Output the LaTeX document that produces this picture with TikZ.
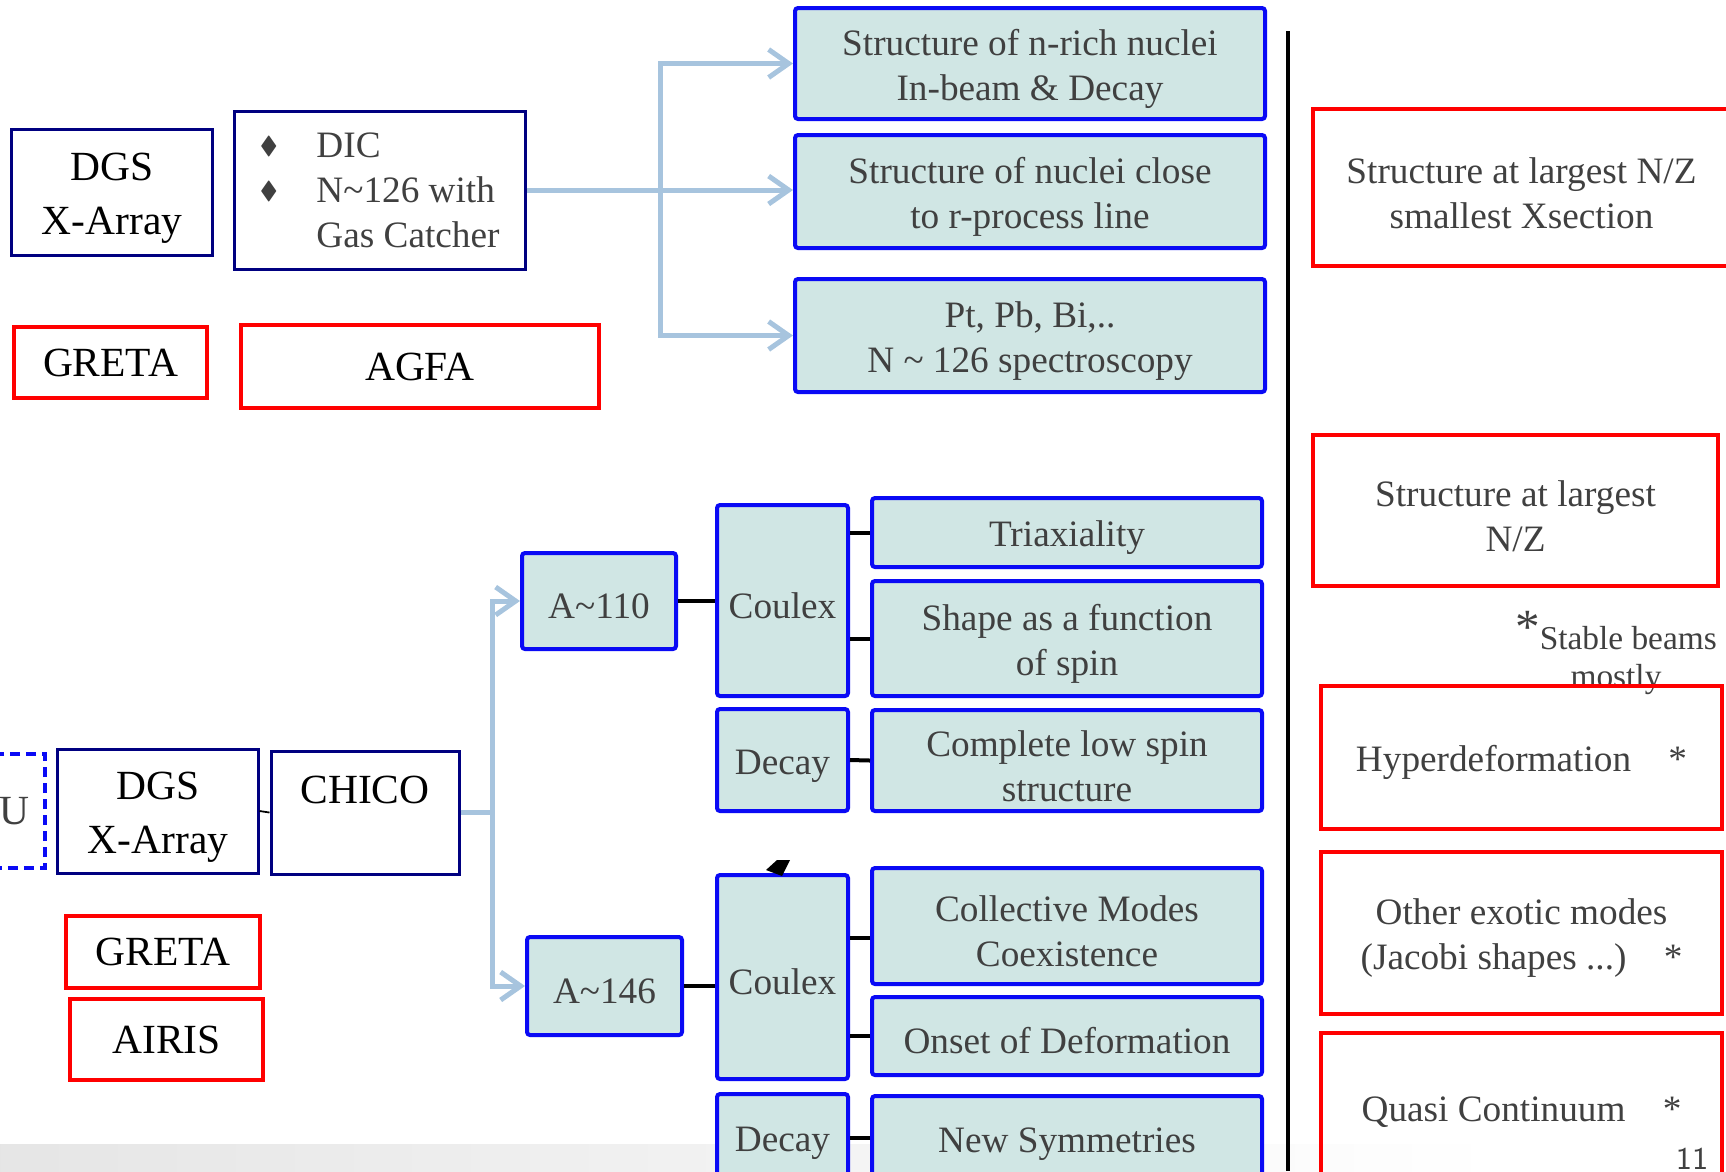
\documentclass[tikz,border=0pt]{standalone}
\usepackage{amssymb}
\usepackage{fontspec}
\setmainfont{Liberation Serif}
\usetikzlibrary{arrows.meta}

\definecolor{navyline}{RGB}{0,0,128}
\definecolor{blueline}{RGB}{10,10,245}
\definecolor{redline}{RGB}{255,0,0}
\definecolor{cyanfill}{RGB}{208,230,228}
\definecolor{flowblue}{RGB}{167,196,222}
\definecolor{darktext}{RGB}{64,64,64}

\newcommand{\bigf}{\fontsize{11.8}{15.4}\selectfont}
\newcommand{\smallf}{\fontsize{10.6}{12.8}\selectfont}
\newcommand{\bul}{\makebox[5.7mm][l]{\raisebox{0.2ex}{\scriptsize$\blacklozenge$}}}
\newcommand{\tld}{\symbol{"7E}}

\begin{document}
\begin{tikzpicture}[
            x=1mm, y=-1mm,
            every node/.style={align=center, inner sep=0pt},
            navybox/.style={draw=navyline, line width=0.3mm, font=\bigf, text=black},
            redbox/.style={draw=redline, line width=0.35mm, font=\smallf, text=darktext},
            cyanbox/.style={draw=blueline, fill=cyanfill, line width=0.4mm, rounded corners=0.3mm, font=\smallf, text=darktext},
            oneline/.style={text height=3.6mm},
            twoline/.style={text height=8.15mm},
            twobig/.style={text height=9.35mm},
            flowline/.style={draw=flowblue, line width=0.5mm},
            flow/.style={flowline, -{Straight Barb[length=2mm, width=2.8mm]}},
            link/.style={draw=black, line width=0.4mm}
        ]
        \useasboundingbox (0,0) rectangle (172.6,117.1);
        \shade[left color=black!10, right color=white] (0,114.4) rectangle (150,117.1);

        \node[navybox, twobig, minimum width=20.1mm, minimum height=12.6mm] (dgsA) at (11.2,19.2) {DGS\\X-Array};
        \node[draw=navyline, line width=0.3mm, font=\smallf, text=darktext, align=left, minimum width=29.1mm, minimum height=15.8mm] (dic) at (37.95,19.0)
            {\bul DIC\\ \bul N\tld126 with\\ \hspace*{5.7mm}Gas Catcher};
        \node[redbox, font=\bigf, text=black, minimum width=19.3mm, minimum height=7.1mm] (gretaA) at (11.05,36.25) {GRETA};
        \node[redbox, font=\bigf, text=black, minimum width=35.8mm, minimum height=8.3mm] (agfa) at (42.0,36.65) {AGFA};

        \node[cyanbox, twoline, minimum width=47mm, minimum height=11.1mm] (topA) at (103.0,6.35) {Structure of n-rich nuclei\\In-beam \& Decay};
        \node[cyanbox, twoline, minimum width=47mm, minimum height=11.3mm] (topB) at (103.0,19.15) {Structure of nuclei close\\to r-process line};
        \node[cyanbox, twoline, minimum width=47mm, minimum height=11.3mm] (topC) at (103.0,33.55) {Pt, Pb, Bi,..\\N \tld{} 126 spectroscopy};

        \coordinate (tj) at (66.0,19.1);
        \draw[flow] (dic.east) -- (dic.east -| topB.west);
        \draw[flow] (tj) |- (topA.west);
        \draw[flow] (tj) |- (topC.west);

        \draw[line width=0.4mm] (128.8,3.1) -- (128.8,117.1);

        \node[redbox, twoline, minimum width=41.7mm, minimum height=15.7mm] (redA) at (152.15,18.75) {Structure at largest N/Z\\smallest Xsection};
        \node[redbox, twoline, minimum width=40.5mm, minimum height=15.1mm] (redB) at (151.55,51.05) {Structure at largest\\N/Z};
        \node[font=\fontsize{9.5}{11}\selectfont, text=darktext] (note) at (161.6,65.3)
            {\raisebox{0.4ex}{\fontsize{14}{14}\selectfont *}Stable beams\\mostly};
        \node[redbox, oneline, minimum width=40.1mm, minimum height=14.3mm] (redC) at (152.15,75.75) {Hyperdeformation\quad *};
        \node[redbox, twoline, minimum width=40.1mm, minimum height=16.2mm] (redD) at (152.15,93.3) {Other exotic modes\\(Jacobi shapes ...)\quad *};
        \node[redbox, oneline, minimum width=40.1mm, minimum height=14.7mm] (redE) at (152.15,110.65) {Quasi Continuum\quad *};

        \node[draw=blueline, dashed, dash pattern=on 1mm off 0.6mm, line width=0.35mm, minimum width=16.5mm, minimum height=11.4mm] (sim) at (-3.75,81.1) {};
        \node[font=\bigf, text=darktext] (simlabel) at (1.4,81.1) {U};
        \node[navybox, twobig, minimum width=20.0mm, minimum height=12.4mm] (dgsB) at (15.8,81.1) {DGS\\X-Array};
        \node[navybox, text height=9.0mm, minimum width=18.8mm, minimum height=12.3mm] (chico) at (36.5,81.25) {CHICO\\ \mbox{}};
        \node[redbox, font=\bigf, text=black, minimum width=19.4mm, minimum height=7.2mm] (gretaB) at (16.3,95.2) {GRETA};
        \node[redbox, font=\bigf, text=black, minimum width=19.3mm, minimum height=8.1mm] (airis) at (16.65,103.95) {AIRIS};

        \node[cyanbox, oneline, minimum width=15.4mm, minimum height=9.6mm] (a110) at (59.9,60.1) {A\tld110};
        \node[cyanbox, oneline, minimum width=15.5mm, minimum height=9.8mm] (a146) at (60.45,98.6) {A\tld146};
        \node[cyanbox, oneline, minimum width=13.1mm, minimum height=19.1mm] (coulexA) at (78.25,60.05) {Coulex};
        \node[cyanbox, oneline, minimum width=13.1mm, minimum height=10.2mm] (decayA) at (78.25,76.0) {Decay};
        \node[cyanbox, oneline, minimum width=13.1mm, minimum height=20.4mm] (coulexB) at (78.25,97.7) {Coulex};
        \node[cyanbox, oneline, minimum width=13.1mm, minimum height=8.6mm] (decayB) at (78.25,113.7) {Decay};

        \node[cyanbox, oneline, minimum width=39mm, minimum height=6.9mm] (triax) at (106.7,53.25) {Triaxiality};
        \node[cyanbox, twoline, minimum width=39mm, minimum height=11.5mm] (shape) at (106.7,63.85) {Shape as a function\\of spin};
        \node[cyanbox, twoline, minimum width=39mm, minimum height=10.1mm] (complete) at (106.7,76.05) {Complete low spin\\structure};
        \node[cyanbox, twoline, minimum width=39mm, minimum height=11.6mm] (collect) at (106.7,92.6) {Collective Modes\\Coexistence};
        \node[cyanbox, oneline, minimum width=39mm, minimum height=7.8mm] (onset) at (106.7,103.6) {Onset of Deformation};
        \node[cyanbox, oneline, minimum width=39mm, minimum height=8.4mm] (newsym) at (106.7,113.8) {New Symmetries};

        \coordinate (bj) at (49.2,81.5);
        \draw[line width=0.5pt] (dgsB.east) -- (chico.west);
        \draw[flowline] (chico.east) -- (chico.east -| bj);
        \draw[flow] (bj) |- (a110.west);
        \draw[flow] (bj) |- (a146.west);

        \draw[link] (a110.east) -- (a110.east -| coulexA.west);
        \draw[link] (triax.west) -- (triax.west -| coulexA.east);
        \draw[link] (shape.west) -- (shape.west -| coulexA.east);
        \draw[link] (decayA.east) -- (complete.west);
        \draw[link] (a146.east) -- (a146.east -| coulexB.west);
        \draw[link] ([yshift=-1.2mm]collect.west) -- ([yshift=-1.2mm]collect.west -| coulexB.east);
        \draw[link] (onset.west) -- (onset.west -| coulexB.east);
        \draw[link] (newsym.west) -- (newsym.west -| decayB.east);

        \fill (76.6,87.0) -- (77.7,86.0) -- (79.0,86.0) -- (78.2,87.6) -- cycle;
        \node[font=\sffamily\fontsize{9}{9}\selectfont, text=darktext, anchor=south] (page) at (169.2,117.0) {11};
\end{tikzpicture}
\end{document}
